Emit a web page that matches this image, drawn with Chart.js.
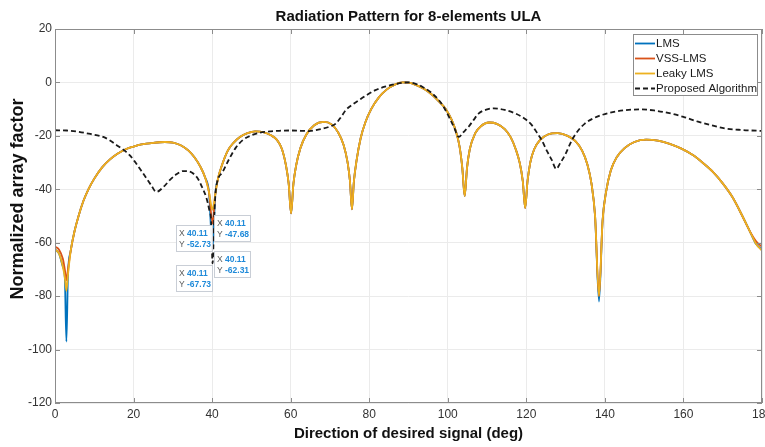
<!DOCTYPE html>
<html>
<head>
<meta charset="utf-8">
<title>Radiation Pattern for 8-elements ULA</title>
<script src="https://cdn.jsdelivr.net/npm/chart.js@4.4.1/dist/chart.umd.min.js"></script>
<style>
  html,body{margin:0;padding:0;background:#fff;overflow:hidden;}
  #wrap{width:765px;height:447px;overflow:hidden;}
  canvas{display:block;}
</style>
</head>
<body>
<div id="wrap"><canvas id="chart" width="800" height="447"></canvas></div>
<script>
const FONT = "'Liberation Sans', Arial, sans-serif";

// angles (deg) shared by the three adaptive algorithms
const angles = [0,1,2,2.5,2.9,3.3,4,5,6,7.2,
  8.5,10,12,14,16,18,20,22,25,28,
  30,32,34,35.5,37,38.2,39.2,40.11,40.8,41.5,
  42.5,44,45.5,47,49,51,53,55,56.5,57.8,
  58.8,59.5,60.1,60.7,61.4,62.5,64,66,68.5,70.5,
  72,73.5,74.5,75.1,75.6,76.1,76.8,77.8,79,80.5,
  82.5,84.5,86.5,88.5,90,92,94,96,98,99.5,
  101,102,103,103.7,104.3,104.9,105.6,107,108.5,110.5,
  112.5,114.5,116,117.3,118.3,119.1,119.7,120.3,121,122,
  123.5,125.5,128,130.5,132.5,134.2,135.5,136.6,137.5,138.5,
  139.4,140.3,141.5,143,145,147.5,150.5,153.5,156.5,159.5,
  162.5,165,167.5,170,172.5,175,177,178.5,180];

const leakyDb = [-62.5,-64,-69,-73,-78,-72,-63,-55.5,-50,-44.5,
  -40,-36,-31.8,-28.8,-26.6,-25,-24,-23.2,-22.6,-22.3,
  -22.5,-23.5,-25.5,-28,-31.5,-35.5,-41,-47.68,-42,-36,
  -31,-25.5,-22.5,-20.5,-19,-18.3,-18.6,-19.8,-21.5,-25,
  -31,-38,-49,-38,-31,-24.5,-19.5,-16,-14.8,-15.8,
  -18.5,-23.5,-30,-37,-47.5,-37,-29,-21,-15,-10,
  -5.5,-2.6,-0.8,0,-0.1,-1,-2.5,-4.6,-7.5,-10,
  -14,-18,-24,-32,-42.5,-32,-25,-19,-16.3,-15,
  -15.5,-17.5,-20.5,-25,-30,-37,-47,-37,-30,-25,
  -21.5,-19.5,-19,-20,-22,-25.5,-30.5,-38,-50,-80,
  -52,-41,-33,-28,-24.6,-22.3,-21.4,-21.8,-23,-24.8,
  -27.3,-30.2,-33.5,-37.8,-43,-50,-56,-60.5,-63];

const lmsDb = [-62.5,-64,-69,-73,-97,-72,-63,-55.5,-50,-44.5,
  -40,-36,-31.8,-28.8,-26.6,-25,-24,-23.2,-22.6,-22.3,
  -22.5,-23.5,-25.5,-28,-31.5,-35.5,-41,-62.31,-42,-36,
  -31,-25.5,-22.5,-20.5,-19,-18.3,-18.6,-19.8,-21.5,-25,
  -31,-38,-49,-38,-31,-24.5,-19.5,-16,-14.8,-15.8,
  -18.5,-23.5,-30,-37,-47.5,-37,-29,-21,-15,-10,
  -5.5,-2.6,-0.8,0,-0.1,-1,-2.5,-4.6,-7.5,-10,
  -14,-18,-24,-32,-42.5,-32,-25,-19,-16.3,-15,
  -15.5,-17.5,-20.5,-25,-30,-37,-47,-37,-30,-25,
  -21.5,-19.5,-19,-20,-22,-25.5,-30.5,-38,-50,-82,
  -52,-41,-33,-28,-24.6,-22.3,-21.4,-21.8,-23,-24.8,
  -27.3,-30.2,-33.5,-37.8,-43,-50,-56,-60.5,-62.5];

const vssDb = [-61.5,-62.5,-66,-70,-74,-70,-63,-55.5,-50,-44.5,
  -40,-36,-31.8,-28.8,-26.6,-25,-24,-23.2,-22.6,-22.3,
  -22.5,-23.5,-25.5,-28,-31.5,-35.5,-41,-52.73,-42,-36,
  -31,-25.5,-22.5,-20.5,-19,-18.3,-18.6,-19.8,-21.5,-25,
  -31,-38,-49,-38,-31,-24.5,-19.5,-16,-14.8,-15.8,
  -18.5,-23.5,-30,-37,-47.5,-37,-29,-21,-15,-10,
  -5.5,-2.6,-0.8,0,-0.1,-1,-2.5,-4.6,-7.5,-10,
  -14,-18,-24,-32,-42.5,-32,-25,-19,-16.3,-15,
  -15.5,-17.5,-20.5,-25,-30,-37,-47,-37,-30,-25,
  -21.5,-19.5,-19,-20,-22,-25.5,-30.5,-38,-50,-80,
  -52,-41,-33,-28,-24.6,-22.3,-21.4,-21.8,-23,-24.8,
  -27.3,-30.2,-33.5,-37.8,-43,-50,-56,-59.5,-61.5];

// proposed algorithm (dashed)
const propAngles = [0,3,6,9,12.3,14,15.7,17.5,19,20.5,
  22.4,24.5,25.8,27.5,29.2,31,32.6,34,35.1,36.5,
  37.6,38.5,39.2,39.8,40.11,40.6,41,42.7,44.4,46,
  47.8,50,52,55,57.1,60,62.5,64.7,67,69.8,
  71.5,72.8,74,75.7,77.4,79.5,81.6,84,86.7,88.5,
  90.1,92,93.5,95.5,97.7,99,100.3,101.6,102.8,104,
  105.3,106.6,107.9,109.8,111.7,114.5,117.2,119.5,121.4,123,
  123.9,125.2,126.5,127.6,128.6,129.9,131.6,133.2,134.9,137,
  139.2,142,145.1,149.3,152.5,156.1,160,163.7,167,170.5,
  175,178.9,180];
const propDb = [-17.9,-18,-18.5,-19.3,-20.4,-21.7,-23.5,-25.3,-27.2,-30,
  -34,-38.5,-41,-39.3,-36.6,-34.3,-33.2,-33.3,-34,-36.3,
  -39.7,-43,-47.2,-53,-67.73,-48,-39.7,-33.5,-28.5,-24.5,
  -21.6,-19.8,-18.9,-18.3,-18.1,-18,-18.1,-18.2,-17.7,-16.6,
  -15.4,-13,-10.4,-8.3,-6.6,-4.6,-2.9,-1.6,-0.6,-0.1,
  0,-0.6,-1.6,-3.5,-6.6,-9.3,-12.9,-16.8,-20.4,-18.6,
  -16.6,-14,-11.6,-10.2,-9.7,-10.3,-11.6,-13.5,-16,-19.5,
  -21.6,-25.5,-29.1,-32.4,-30.3,-27,-21.6,-18,-15.4,-13.5,
  -12.2,-11.1,-10.4,-10.1,-10.5,-11.4,-12.9,-14.7,-16,-17.2,
  -17.8,-18.1,-18.2];

const seriesNames = ['LMS', 'VSS-LMS', 'Leaky LMS', 'Proposed Algorithm'];
const yTitle = 'Normalized array factor';

// data tips at the 40.11 deg null
const tipAngle = 40.11;
const tipValues = [-47.68, -52.73, -62.31, -67.73];
const tipSide = ['right', 'left', 'right', 'left'];
const tipDy = [5, 2, 2, 2];

const toPoints = (xs, ys) => xs.map((x, i) => ({ x: x, y: ys[i] }));

function lineSet(label, xs, ys, color, width, order, dash){
  return {
    label: label,
    data: toPoints(xs, ys),
    borderColor: color,
    borderWidth: width,
    borderDash: dash || [],
    pointRadius: 0,
    fill: false,
    cubicInterpolationMode: 'monotone',
    order: order
  };
}

// MATLAB-like box with inward ticks
const framePlugin = {
  id: 'frame',
  afterDatasetsDraw(chart){
    const { ctx, chartArea: a, scales } = chart;
    ctx.save();
    ctx.strokeStyle = '#8c8c8c';
    ctx.lineWidth = 1;
    ctx.strokeRect(a.left + 0.5, a.top + 0.5, a.right - a.left - 1, a.bottom - a.top - 1);
    ctx.beginPath();
    scales.x.ticks.forEach(t => {
      const px = Math.round(scales.x.getPixelForValue(t.value)) + 0.5;
      ctx.moveTo(px, a.bottom); ctx.lineTo(px, a.bottom - 5);
      ctx.moveTo(px, a.top); ctx.lineTo(px, a.top + 5);
    });
    scales.y.ticks.forEach(t => {
      const py = Math.round(scales.y.getPixelForValue(t.value)) + 0.5;
      ctx.moveTo(a.left, py); ctx.lineTo(a.left + 5, py);
      ctx.moveTo(a.right, py); ctx.lineTo(a.right - 5, py);
    });
    ctx.stroke();
    ctx.restore();
  }
};

// y label sits a little above the axis centre, like the MATLAB figure
const yTitlePlugin = {
  id: 'yTitle',
  afterDraw(chart){
    const { ctx, chartArea: a } = chart;
    ctx.save();
    ctx.translate(18, (a.top + a.bottom) / 2 - 17);
    ctx.rotate(-Math.PI / 2);
    ctx.font = 'bold 18px ' + FONT;
    ctx.fillStyle = '#111';
    ctx.textAlign = 'center';
    ctx.textBaseline = 'middle';
    ctx.fillText(yTitle, 0, 0);
    ctx.restore();
  }
};

const tipsPlugin = {
  id: 'tips',
  afterDatasetsDraw(chart){
    const { ctx, scales } = chart;
    const w = 36, h = 26;
    ctx.save();
    tipValues.forEach((v, i) => {
      const px = scales.x.getPixelForValue(tipAngle);
      const py = scales.y.getPixelForValue(v);
      const bx = Math.round(tipSide[i] === 'right' ? px + 1 : px - 1 - w);
      const by = Math.round(py + tipDy[i]);
      ctx.fillStyle = 'rgba(255,255,255,0.95)';
      ctx.fillRect(bx, by, w, h);
      ctx.strokeStyle = '#c9ced6';
      ctx.strokeRect(bx + 0.5, by + 0.5, w, h);
      ctx.textBaseline = 'alphabetic';
      ctx.font = '8.5px ' + FONT;
      ctx.fillStyle = '#5a5a5a';
      ctx.fillText('X', bx + 3, by + 11);
      ctx.fillText('Y', bx + 3, by + 22);
      ctx.font = 'bold 8.5px ' + FONT;
      ctx.fillStyle = '#1f8ad9';
      ctx.fillText(tipAngle.toFixed(2), bx + 11, by + 11);
      ctx.fillText(v.toFixed(2), bx + 11, by + 22);
    });
    ctx.restore();
  }
};

const legendPlugin = {
  id: 'boxLegend',
  afterDraw(chart){
    const { ctx, chartArea: a } = chart;
    const w = 124, h = 61;
    const x = a.right - 5 - w, y = a.top + 5;
    ctx.save();
    ctx.fillStyle = '#fff';
    ctx.fillRect(x, y, w, h);
    ctx.strokeStyle = '#8c8c8c';
    ctx.lineWidth = 1;
    ctx.strokeRect(x + 0.5, y + 0.5, w, h);
    ctx.font = '11.5px ' + FONT;
    ctx.textBaseline = 'middle';
    chart.data.datasets.forEach((ds, i) => {
      const ry = y + 9.5 + i * 15;
      ctx.strokeStyle = ds.borderColor;
      ctx.lineWidth = ds.borderWidth;
      ctx.setLineDash(ds.borderDash);
      ctx.beginPath();
      ctx.moveTo(x + 2, ry); ctx.lineTo(x + 22, ry);
      ctx.stroke();
      ctx.setLineDash([]);
      ctx.fillStyle = '#1a1a1a';
      ctx.fillText(ds.label, x + 23, ry);
    });
    ctx.restore();
  }
};

new Chart(document.getElementById('chart'), {
  type: 'line',
  data: {
    datasets: [
      lineSet(seriesNames[0], angles, lmsDb, '#0072BD', 1.8, 4),
      lineSet(seriesNames[1], angles, vssDb, '#D95319', 1.8, 3),
      lineSet(seriesNames[2], angles, leakyDb, '#EDB120', 1.8, 2),
      lineSet(seriesNames[3], propAngles, propDb, '#1a1a1a', 1.8, 1, [5, 3])
    ]
  },
  options: {
    responsive: false,
    animation: false,
    devicePixelRatio: 1,
    layout: { padding: { left: 0, right: 38, top: 0, bottom: 0 } },
    plugins: {
      legend: { display: false },
      tooltip: { enabled: false },
      title: {
        display: true,
        text: 'Radiation Pattern for 8-elements ULA',
        fullSize: false,
        color: '#111',
        font: { family: FONT, size: 15, weight: 'bold' },
        padding: { top: 8, bottom: 3 }
      }
    },
    scales: {
      x: {
        type: 'linear',
        min: 0, max: 180,
        afterFit: s => { s.height = 44; },
        ticks: { stepSize: 20, color: '#333', font: { family: FONT, size: 12 }, padding: 4, maxRotation: 0 },
        grid: { color: '#ebebeb', drawTicks: false },
        border: { display: false },
        title: {
          display: true,
          text: 'Direction of desired signal (deg)',
          color: '#111',
          font: { family: FONT, size: 15, weight: 'bold' },
          padding: { top: 0, bottom: 4 }
        }
      },
      y: {
        min: -120, max: 20,
        afterFit: s => { s.width = 55; },
        ticks: { stepSize: 20, color: '#333', font: { family: FONT, size: 12 }, padding: 3 },
        grid: { color: '#ebebeb', drawTicks: false },
        border: { display: false },
        title: { display: false }
      }
    }
  },
  plugins: [framePlugin, tipsPlugin, legendPlugin, yTitlePlugin]
});
</script>
</body>
</html>
